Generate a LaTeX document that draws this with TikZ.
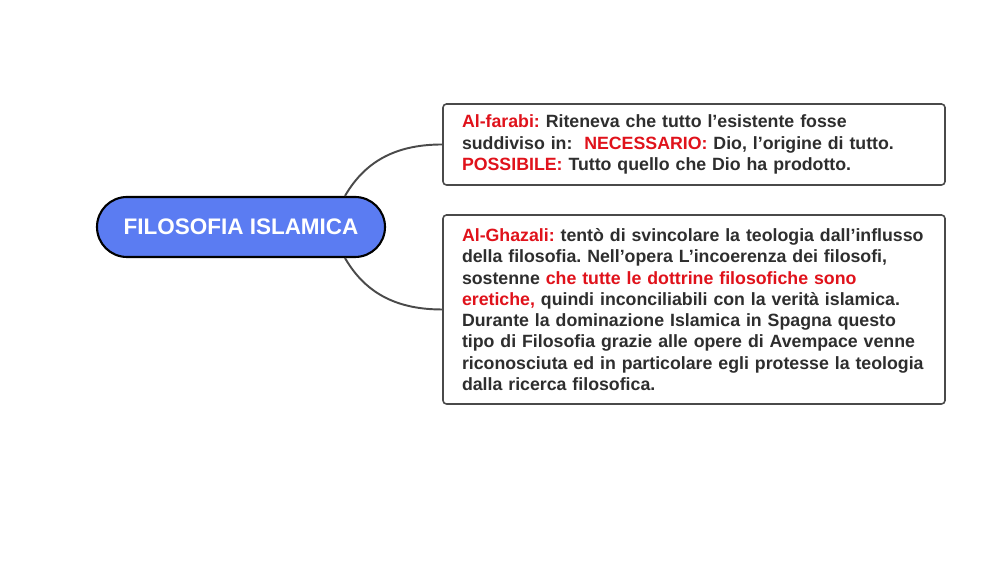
\documentclass[tikz,border=0pt]{standalone}
\usepackage{fontspec}
\setmainfont{Liberation Sans}
\frenchspacing
\definecolor{topicblue}{HTML}{5B7CF2}
\definecolor{keyred}{HTML}{E0121B}
\definecolor{textgray}{HTML}{2E2E2E}
\definecolor{linegray}{HTML}{4A4A4A}
\newcommand{\keyword}[1]{\textcolor{keyred}{#1}}
\tikzset{
  topic/.style={draw=black, line width=1.2pt, fill=topicblue, rounded corners=0.6cm,
    minimum width=5.76cm, minimum height=1.2cm, text=white,
    font=\fontsize{12.8}{15}\selectfont\bfseries},
  note/.style={draw=linegray, line width=0.9pt, rounded corners=2pt, fill=white,
    align=left, text width=9.28cm, inner xsep=0.38cm, inner ysep=0pt, text=textgray,
    font=\fontsize{10.1}{12.1}\selectfont\bfseries},
  branch/.style={draw=linegray, line width=1.1pt}
}

\begin{document}
\begin{tikzpicture}
    \useasboundingbox[fill=white] (0,0) rectangle (20,11.24);

    \node[topic] (islamica) at (4.82,6.70) {FILOSOFIA ISLAMICA};

    \node[note, minimum height=1.62cm] (farabi) at (13.88,8.35)
      {\keyword{Al-farabi:} Riteneva che tutto l’esistente fosse\\
       suddiviso in:~ \keyword{NECESSARIO:} Dio, l’origine di tutto.\\
       \keyword{POSSIBILE:} Tutto quello che Dio ha prodotto.};

    \node[note, minimum height=3.78cm] (ghazali) at (13.88,5.05)
      {\keyword{Al-Ghazali:} tentò di svincolare la teologia dall’influsso\\
       della filosofia. Nell’opera L’incoerenza dei filosofi,\\
       sostenne \keyword{che tutte le dottrine filosofiche sono}\\
       \keyword{eretiche,} quindi inconciliabili con la verità islamica.\\
       Durante la dominazione Islamica in Spagna questo\\
       tipo di Filosofia grazie alle opere di Avempace venne\\
       riconosciuta ed in particolare egli protesse la teologia\\
       dalla ricerca filosofica.};

    \draw[branch] ([xshift=2.08cm]islamica.north) to[out=60,in=180] (farabi.west);
    \draw[branch] ([xshift=2.08cm]islamica.south) to[out=-60,in=180] (ghazali.west);

      % \draw[help lines] (0,0) grid (20,11);
  \end{tikzpicture}
\end{document}
